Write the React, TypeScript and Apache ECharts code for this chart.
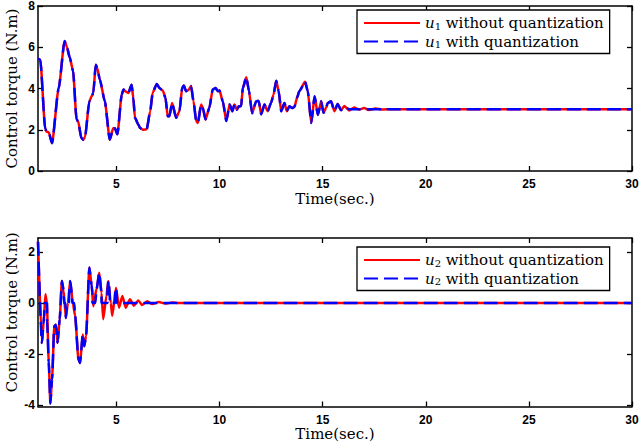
import React, { useEffect, useRef } from "react";
import * as echarts from "echarts";

// Control torque u1 (time in seconds, torque in N.m)
const tU1 = [
  1.2, 1.31, 1.55, 1.62, 1.72, 1.88, 2.2, 2.49, 2.59, 2.74, 2.9, 3.07, 3.15, 3.3, 3.4, 3.48,
  3.69, 3.8, 3.88, 4.0, 4.07, 4.2, 4.44, 4.68, 4.85, 4.93, 5.05, 5.26, 5.34, 5.46, 5.58, 5.74,
  5.82, 5.9, 6.07, 6.15, 6.3, 6.47, 6.64, 6.76, 6.96, 7.09, 7.25, 7.38, 7.49, 7.57, 7.7, 7.9,
  8.06, 8.19, 8.27, 8.38, 8.5, 8.62, 8.74, 8.87, 8.95, 9.11, 9.19, 9.32, 9.51, 9.67, 9.81, 9.92,
  10.0, 10.16, 10.33, 10.49, 10.62, 10.73, 10.84, 10.94, 11.05, 11.13, 11.3, 11.43, 11.58, 11.78,
  11.9, 12.02, 12.18, 12.33, 12.5, 12.62, 12.75, 12.87, 12.99, 13.15, 13.26, 13.39, 13.52, 13.63,
  13.76, 13.87, 14.15, 14.28, 14.45, 14.61, 14.77, 14.93, 15.04, 15.17, 15.25, 15.41, 15.57,
  15.73, 15.89, 16.05, 16.29, 16.53, 16.77, 17.01, 17.25, 17.57, 17.9, 18.3, 30,
];
const u1Without = [
  5.45, 5.4, 2.05, 1.9, 1.88, 1.35, 4.0, 6.3, 6.05, 5.5, 4.85, 2.5, 2.4, 1.6, 1.52, 1.65,
  3.38, 3.62, 3.78, 5.15, 5.0, 4.42, 3.38, 1.52, 2.08, 2.07, 1.78, 3.7, 3.95, 3.85, 3.78, 4.18,
  3.55, 2.58, 2.25, 2.08, 2.0, 2.02, 2.9, 3.8, 4.22, 4.02, 3.9, 3.55, 2.65, 2.65, 3.3, 2.58,
  2.9, 4.02, 4.15, 3.87, 3.93, 4.12, 3.38, 2.42, 2.33, 3.22, 3.07, 2.5, 3.07, 3.95, 4.02, 3.87,
  3.9, 3.38, 2.42, 3.22, 2.9, 3.22, 2.97, 3.14, 3.15, 4.02, 4.55, 3.87, 2.8, 3.38,
  3.4, 2.75, 3.22, 2.9, 3.3, 3.7, 4.38, 3.87, 2.9, 3.3, 2.9, 3.14, 3.05, 3.1,
  3.55, 3.87, 4.33, 3.87, 2.33, 3.62, 2.72, 3.38, 2.82, 3.07, 3.3, 3.38, 2.9,
  3.25, 2.95, 3.15, 2.93, 3.08, 2.98, 3.05, 2.96, 3.03, 2.98, 3.0, 3.0,
];
const u1With = [
  5.45, 5.4, 2.05, 1.9, 1.88, 1.35, 4.0, 6.3, 6.05, 5.5, 4.85, 2.5, 2.4, 1.6, 1.52, 1.65,
  3.38, 3.62, 3.78, 5.15, 5.0, 4.42, 3.38, 1.52, 2.08, 2.07, 1.78, 3.7, 3.95, 3.85, 3.78, 4.18,
  3.55, 2.58, 2.25, 2.08, 2.0, 2.02, 2.9, 3.8, 4.22, 4.02, 3.9, 3.55, 2.65, 2.65, 3.3, 2.58,
  2.9, 4.02, 4.15, 3.87, 3.93, 4.12, 3.38, 2.42, 2.33, 3.22, 3.07, 2.5, 3.07, 3.95, 4.02, 3.87,
  3.9, 3.38, 2.42, 3.22, 2.9, 3.22, 2.97, 3.14, 3.15, 4.02, 4.55, 3.87, 2.8, 3.38,
  3.4, 2.75, 3.22, 2.9, 3.3, 3.7, 4.38, 3.87, 2.9, 3.3, 2.9, 3.14, 3.05, 3.1,
  3.55, 3.87, 4.33, 3.87, 2.33, 3.62, 2.72, 3.38, 2.82, 3.07, 3.3, 3.38, 2.9,
  3.25, 2.95, 3.1, 3.0, 3.0, 3.0, 3.0, 3.0, 3.0, 3.0, 3.0, 3.0,
];

// Control torque u2
const tU2 = [
  1.2, 1.39, 1.47, 1.56, 1.63, 1.72, 1.8, 1.88, 1.99, 2.07, 2.15, 2.25, 2.36, 2.44, 2.55, 2.65,
  2.76, 2.89, 3.0, 3.16, 3.24, 3.37, 3.44, 3.53, 3.69, 3.8, 3.88, 3.96, 4.04, 4.17, 4.28, 4.36,
  4.52, 4.61, 4.73, 4.8, 4.98, 5.13, 5.29, 5.45, 5.66, 5.85, 6.06, 6.25, 6.5, 6.74, 7.06, 7.38,
  7.7, 8.0, 30,
];
const u2Without = [
  2.4, -1.56, -0.78, 0.35, 0.0, -2.3, -3.93, -3.0, -0.9, -0.85, -1.56, -0.64, 0.87, 0.5, -0.58, 0.0,
  0.87, 0.0, -0.5, -2.2, -2.35, -1.23, -1.69, -1.3, 1.39, 0.7, -0.12, 0.3, 0.54, 1.19, 0.4, -0.63,
  0.3, 0.87, 0.0, -0.5, 0.6, -0.18, 0.28, -0.18, 0.15, -0.1, 0.1, -0.07, 0.07, -0.04, 0.04, -0.02,
  0.02, 0, 0,
];
const tU2q = [
  1.2, 1.39, 1.47, 1.5, 1.5, 1.64, 1.64, 1.72, 1.8, 1.88, 1.99, 2.07, 2.15, 2.25, 2.36, 2.44,
  2.46, 2.53, 2.55, 2.6, 2.7, 2.72, 2.76, 2.84, 2.86, 2.96, 3.0, 3.16, 3.24, 3.37, 3.44, 3.53,
  3.69, 3.8, 3.84, 3.84, 3.98, 4.04, 4.17, 4.28, 4.28, 4.57, 4.57, 4.61, 4.68, 4.68, 4.94, 4.94,
  4.98, 5.02, 5.02, 30,
];
const u2With = [
  2.4, -1.56, -0.78, -0.5, 0, 0, -0.7, -2.3, -3.93, -3.0, -0.9, -0.85, -1.56, -0.64, 0.87, 0.5,
  0, 0, -0.58, 0, 0, 0.6, 0.87, 0.4, 0, 0, -0.5, -2.2, -2.35, -1.23, -1.69, -1.3,
  1.39, 0.7, 0.4, 0, 0, 0.54, 1.19, 0.4, 0, 0, 0.6, 0.87, 0.4, 0, 0, 0.5,
  0.6, 0.4, 0, 0,
];

const timeTicks = [5, 10, 15, 20, 25, 30];
const u1Ticks = [0, 2, 4, 6, 8];
const u2Ticks = [-4, -2, 0, 2];

const pairs = (t: number[], v: number[]) => t.map((x, i) => [x, v[i]]);

const serif = "DejaVu Serif";
const tickFont = {
  fontFamily: "Liberation Sans",
  fontWeight: "bold" as const,
  fontSize: 12,
  color: "#000",
};
const frame = { onZero: false, lineStyle: { color: "#000", width: 1.5 } };
const tick = (values: number[]) => ({
  inside: true,
  length: 5,
  customValues: values,
  lineStyle: { color: "#000", width: 1.3 },
});

const xAxes = (grid: number) => [
  {
    gridIndex: grid,
    type: "value",
    min: 1.2,
    max: 30,
    position: "bottom",
    axisLine: frame,
    axisTick: tick(timeTicks),
    axisLabel: { ...tickFont, margin: 7, customValues: timeTicks },
    splitLine: { show: false },
    name: "Time(sec.)",
    nameLocation: "middle",
    nameGap: 20,
    nameMoveOverlap: false,
    nameTextStyle: { fontFamily: serif, fontSize: 15, color: "#000" },
  },
  {
    gridIndex: grid,
    type: "value",
    min: 1.2,
    max: 30,
    position: "top",
    axisLine: frame,
    axisTick: tick(timeTicks),
    axisLabel: { show: false },
    splitLine: { show: false },
  },
];

const yAxes = (grid: number, min: number, max: number, ticks: number[], namePad: number[]) => [
  {
    gridIndex: grid,
    type: "value",
    min,
    max,
    position: "left",
    axisLine: frame,
    axisTick: tick(ticks),
    axisLabel: { ...tickFont, margin: 3, align: "right", customValues: ticks },
    splitLine: { show: false },
    name: "Control torque (N.m)",
    nameLocation: "middle",
    nameGap: 19,
    nameMoveOverlap: false,
    nameTextStyle: { fontFamily: serif, fontSize: 15, color: "#000", padding: namePad },
  },
  {
    gridIndex: grid,
    type: "value",
    min,
    max,
    position: "right",
    axisLine: frame,
    axisTick: tick(ticks),
    axisLabel: { show: false },
    splitLine: { show: false },
  },
];

const legendBox = (names: string[], top: number) => ({
  data: names,
  orient: "vertical",
  left: 357,
  top,
  padding: [5, 6, 4, 6],
  itemGap: 2.5,
  itemWidth: 56,
  itemHeight: 14,
  borderColor: "#000",
  borderWidth: 1.3,
  backgroundColor: "#fff",
  selectedMode: false,
  itemStyle: { opacity: 0 },
  formatter: (name: string) => {
    const m = name.match(/^u(\d) (.*)$/);
    return m ? `{it|u}{sub|${m[1]}}{txt| ${m[2]}}` : name;
  },
  textStyle: {
    color: "#000",
    fontFamily: serif,
    fontSize: 15,
    rich: {
      it: { fontFamily: serif, fontStyle: "italic", fontSize: 15, color: "#000", lineHeight: 16 },
      sub: { fontFamily: serif, fontSize: 10, color: "#000", lineHeight: 16, verticalAlign: "bottom", padding: [6, 0, 0, 0] },
      txt: { fontFamily: serif, fontSize: 15, color: "#000", lineHeight: 16 },
    },
  },
});

const redLine = { color: "#ff0000", width: 2.5 };
const blueLine = { color: "#0000ff", width: 2.5, type: [14, 6] };

const lineSeries = (name: string, axis: number, data: number[][], style: any) => ({
  name,
  type: "line",
  xAxisIndex: axis,
  yAxisIndex: axis,
  data,
  symbol: "none",
  smooth: 0.2,
  smoothMonotone: "x",
  lineStyle: style,
  itemStyle: { color: style.color },
});

export default function App() {
  const ref = useRef<HTMLDivElement>(null);

  useEffect(() => {
    if (!ref.current) return;
    const chart = echarts.init(ref.current, null, { renderer: "svg" });
    chart.setOption({
      animation: false,
      backgroundColor: "#fff",
      grid: [
        { left: 38, right: 8, top: 6, height: 165, outerBoundsMode: "none" },
        { left: 38, right: 8, top: 238, height: 168.5, outerBoundsMode: "none" },
      ],
      xAxis: [...xAxes(0), ...xAxes(1)],
      yAxis: [
        ...yAxes(0, 0, 8, u1Ticks, [0, 0, 0, 0]),
        ...yAxes(1, -4.05, 2.55, u2Ticks, [0, 0, 0, 20]),
      ],
      legend: [
        legendBox(["u1 without quantization", "u1 with quantization"], 10),
        legendBox(["u2 without quantization", "u2 with quantization"], 247),
      ],
      series: [
        lineSeries("u1 without quantization", 0, pairs(tU1, u1Without), redLine),
        lineSeries("u1 with quantization", 0, pairs(tU1, u1With), blueLine),
        lineSeries("u2 without quantization", 2, pairs(tU2, u2Without), redLine),
        lineSeries("u2 with quantization", 2, pairs(tU2q, u2With), blueLine),
      ],
    });
    return () => chart.dispose();
  }, []);

  return (
    <div
      ref={ref}
      style={{ position: "absolute", left: 0, top: 0, width: 640, height: 444 }}
    />
  );
}
